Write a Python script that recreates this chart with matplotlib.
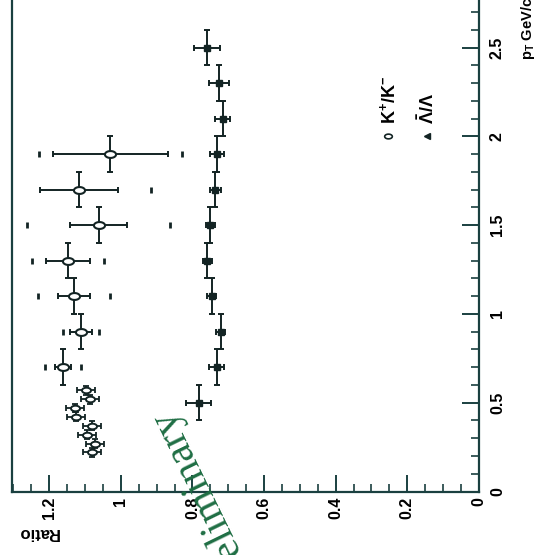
import matplotlib
matplotlib.use("Agg")
import matplotlib.pyplot as plt
from matplotlib.path import Path
from matplotlib.ticker import MultipleLocator
import numpy as np

plt.rcParams['font.family'] = ['Liberation Sans', 'DejaVu Sans']
plt.rcParams['mathtext.fontset'] = 'custom'
plt.rcParams['mathtext.rm'] = 'Liberation Sans'
plt.rcParams['mathtext.bf'] = 'Liberation Sans:bold'
plt.rcParams['mathtext.it'] = 'Liberation Sans:italic'

# K+/K- ratio (higher pT)
k_pt = [0.7, 0.9, 1.1, 1.3, 1.5, 1.7, 1.9]
k_ratio = [1.161, 1.112, 1.131, 1.147, 1.062, 1.117, 1.030]
k_err = [0.023, 0.030, 0.044, 0.061, 0.080, 0.110, 0.161]
k_sys = [0.05, 0.05, 0.10, 0.10, 0.20, 0.20, 0.20]
k_pt_err = [0.1, 0.1, 0.1, 0.1, 0.1, 0.1, 0.1]

# K+/K- ratio (low pT)
kl_pt = [0.22, 0.27, 0.32, 0.37, 0.42, 0.47, 0.52, 0.57]
kl_ratio = [1.081, 1.072, 1.095, 1.081, 1.125, 1.128, 1.086, 1.097]
kl_err = [0.025, 0.025, 0.025, 0.025, 0.025, 0.025, 0.025, 0.025]
kl_pt_err = [0.025, 0.025, 0.025, 0.025, 0.025, 0.025, 0.025, 0.025]

# anti-Lambda / Lambda ratio
l_pt = [0.5, 0.7, 0.9, 1.1, 1.3, 1.5, 1.7, 1.9, 2.1, 2.3, 2.5]
l_ratio = [0.783, 0.732, 0.721, 0.746, 0.758, 0.750, 0.736, 0.732, 0.715, 0.727, 0.760]
l_err = [0.034, 0.021, 0.012, 0.012, 0.012, 0.012, 0.015, 0.020, 0.021, 0.028, 0.037]
l_pt_err = [0.1, 0.1, 0.1, 0.1, 0.1, 0.1, 0.1, 0.1, 0.1, 0.1, 0.1]

ratio_ticks = [0, 0.2, 0.4, 0.6, 0.8, 1.0, 1.2]
ratio_labels = ['0', '0.2', '0.4', '0.6', '0.8', '1', '1.2']
pt_ticks = [0, 0.5, 1.0, 1.5, 2.0, 2.5]
pt_labels = ['0', '0.5', '1', '1.5', '2', '2.5']

W, H = 537, 555
frame = '#1a4040'
ink = '#132424'

# wide ellipse marker (the picture is stretched sideways)
t = np.linspace(0, 2 * np.pi, 40)
ellipse = Path(np.column_stack([np.cos(t), 0.62 * np.sin(t)]), closed=True)

fig = plt.figure(figsize=(W / 100, H / 100), dpi=100)
ax = fig.add_axes([11.7 / W, 1 - 491.5 / H, (478.8 - 11.7) / W, 497.1 / H])
ax.set_xlim(1.305, 0)
ax.set_ylim(0, 2.8)

for s in ax.spines.values():
    s.set_color(frame)
    s.set_linewidth(1.6)

ax.yaxis.tick_right()
ax.set_xticks(ratio_ticks)
ax.set_xticklabels(ratio_labels, rotation=90, fontweight='bold', fontsize=11.5)
ax.set_yticks(pt_ticks)
ax.set_yticklabels(pt_labels, rotation=90, fontweight='bold', fontsize=11.5)
for lab in ax.get_yticklabels():
    lab.set_va('center')
ax.xaxis.set_minor_locator(MultipleLocator(0.05))
ax.yaxis.set_minor_locator(MultipleLocator(0.1))
ax.tick_params(axis='x', which='major', direction='in', length=12, width=1.4, color=frame, pad=4)
ax.tick_params(axis='x', which='minor', direction='in', length=6, width=1.2, color=frame)
ax.tick_params(axis='y', which='major', direction='in', length=12, width=1.4, color=frame, pad=8)
ax.tick_params(axis='y', which='minor', direction='in', length=6, width=1.2, color=frame)
ax.tick_params(which='both', left=False, top=False)

# systematic error marks
k_sys_lo = [r + s for r, s in zip(k_ratio, k_sys)]
k_sys_hi = [r - s for r, s in zip(k_ratio, k_sys)]
ax.plot(k_sys_lo, k_pt, ls='none', marker='|', ms=4, mew=2, color=ink)
ax.plot(k_sys_hi, k_pt, ls='none', marker='|', ms=4, mew=2, color=ink)

ax.errorbar(l_ratio, l_pt, xerr=l_err, yerr=l_pt_err, fmt='s', ms=4, color=ink,
            mfc=ink, mec=ink, elinewidth=1.4, capsize=2.5, capthick=1.4)
ax.errorbar(k_ratio, k_pt, xerr=k_err, yerr=k_pt_err, fmt='none', ecolor=ink,
            elinewidth=1.4, capsize=2.5, capthick=1.4)
ax.plot(k_ratio, k_pt, ls='none', marker=ellipse, ms=8, mfc='white', mec=ink, mew=1.5)
ax.errorbar(kl_ratio, kl_pt, xerr=kl_err, yerr=kl_pt_err, fmt='none', ecolor=ink,
            elinewidth=1.3, capsize=2.2, capthick=1.3)
ax.plot(kl_ratio, kl_pt, ls='none', marker=ellipse, ms=6.5, mfc='white', mec=ink, mew=1.4)

# legend
ax.plot([0.253], [2.0], ls='none', marker=ellipse, ms=5.5, mfc='white', mec=ink, mew=1.2)
ax.plot([0.144], [2.0], ls='none', marker='<', ms=4, color=ink)
ax.text(0.25, 2.07, r'$\mathbf{K^{+}/K^{-}}$', rotation=90, rotation_mode='anchor',
        ha='left', va='center', fontsize=13, color='black')
ax.text(0.142, 2.07, r'$\mathbf{\bar{\Lambda}/\Lambda}$', rotation=90, rotation_mode='anchor',
        ha='left', va='center', fontsize=13, color='black')

# axis titles
fig.text(38 / W, 1 - 533 / H, 'Ratio', rotation=180, rotation_mode='anchor',
         ha='center', va='center', fontsize=12, fontweight='bold')
fig.text(528 / W, 1 - 60 / H, r'$\mathbf{p_{T}}$ GeV/c', rotation=90, rotation_mode='anchor',
         ha='left', va='center', fontsize=10.5, fontweight='bold')

fig.text(170 / W, 1 - 407 / H, 'Preliminary', rotation=116, rotation_mode='anchor',
         ha='right', va='baseline', fontsize=30, family='Liberation Serif',
         color='#1f6e44', zorder=10)

fig.savefig('out.png', dpi=100)
